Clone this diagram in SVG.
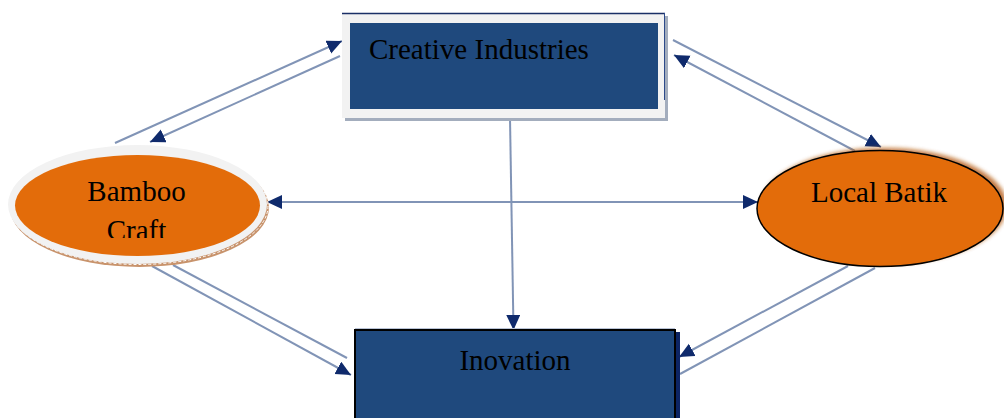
<svg xmlns="http://www.w3.org/2000/svg" width="1004" height="418" viewBox="0 0 1004 418">
  <style>
    .label { font-family: "Liberation Serif", "Times New Roman", serif; font-size: 29px; fill: #000; }
    .link { stroke: #8194b6; stroke-width: 2; fill: none; }
    .navy { fill: #1f497d; }
    .orange { fill: #e36c0a; }
  </style>
  <defs>
    <marker id="arrow" markerUnits="userSpaceOnUse" markerWidth="16" markerHeight="15" refX="15" refY="7" orient="auto-start-reverse">
      <path d="M0,0 L15,7 L0,14 z" fill="#0f2a6c"/>
    </marker>
    <filter id="soft" x="-10%" y="-20%" width="120%" height="140%">
      <feGaussianBlur stdDeviation="2"/>
    </filter>
    <clipPath id="craftClip">
      <rect x="60" y="210" width="160" height="28"/>
    </clipPath>
  </defs>

  <!-- connectors -->
  <g id="connectors">
    <line class="link" x1="115" y1="143" x2="342" y2="41" marker-end="url(#arrow)"/>
    <line class="link" x1="340" y1="56" x2="150" y2="142" marker-end="url(#arrow)"/>
    <line class="link" x1="673" y1="40" x2="881" y2="147" marker-end="url(#arrow)"/>
    <line class="link" x1="855" y1="151" x2="674" y2="55" marker-end="url(#arrow)"/>
    <line class="link" x1="267" y1="202" x2="758" y2="202" marker-start="url(#arrow)" marker-end="url(#arrow)"/>
    <line class="link" x1="510" y1="118" x2="513.5" y2="330" marker-end="url(#arrow)"/>
    <line class="link" x1="152" y1="266" x2="351" y2="375" marker-end="url(#arrow)"/>
    <line class="link" x1="173" y1="265" x2="347" y2="358"/>
    <line class="link" x1="848" y1="266" x2="679" y2="357" marker-end="url(#arrow)"/>
    <line class="link" x1="875" y1="268" x2="680" y2="374"/>
  </g>

  <!-- Creative Industries -->
  <g id="creative-industries">
    <rect x="345" y="16" width="323" height="105" fill="#a3adbd"/>
    <rect x="342" y="13" width="323" height="105" fill="#f2f2f2"/>
    <line x1="342" y1="13.5" x2="665" y2="13.5" stroke="#1a2f66" stroke-width="1.5"/>
    <line x1="664.5" y1="13" x2="664.5" y2="100" stroke="#2c4a8a" stroke-width="1"/>
    <rect class="navy" x="350" y="23" width="308" height="86"/>
    <text class="label" x="369" y="59">Creative Industries</text>
  </g>

  <!-- Bamboo Craft -->
  <g id="bamboo-craft">
    <ellipse cx="139.5" cy="207.5" rx="129.5" ry="59.5" fill="#c8936c"/>
    <ellipse cx="139" cy="206" rx="129" ry="58.5" fill="none" stroke="#ffffff" stroke-width="1" stroke-dasharray="3 2"/>
    <ellipse cx="137.5" cy="204.5" rx="129.5" ry="59.5" fill="#f2f2f2"/>
    <ellipse class="orange" cx="137.5" cy="205.5" rx="122.5" ry="50.5"/>
    <text class="label" x="136.5" y="201" text-anchor="middle">Bamboo</text>
    <text class="label" x="136.5" y="240" text-anchor="middle" clip-path="url(#craftClip)">Craft</text>
  </g>

  <!-- Local Batik -->
  <g id="local-batik">
    <ellipse cx="884" cy="206" rx="123" ry="58" fill="#b4560c" opacity="0.8" filter="url(#soft)"/>
    <ellipse class="orange" cx="880" cy="208.5" rx="123" ry="58" stroke="#000" stroke-width="1.5"/>
    <text class="label" x="879" y="202" text-anchor="middle">Local Batik</text>
  </g>

  <!-- Inovation -->
  <g id="inovation">
    <rect x="355" y="328" width="320" height="2" fill="#b9c3d6"/>
    <rect x="674" y="332" width="6" height="90" fill="#0c2464"/>
    <rect class="navy" x="355" y="330" width="320" height="100" stroke="#000" stroke-width="2"/>
    <text class="label" x="515" y="370" text-anchor="middle">Inovation</text>
  </g>
</svg>
